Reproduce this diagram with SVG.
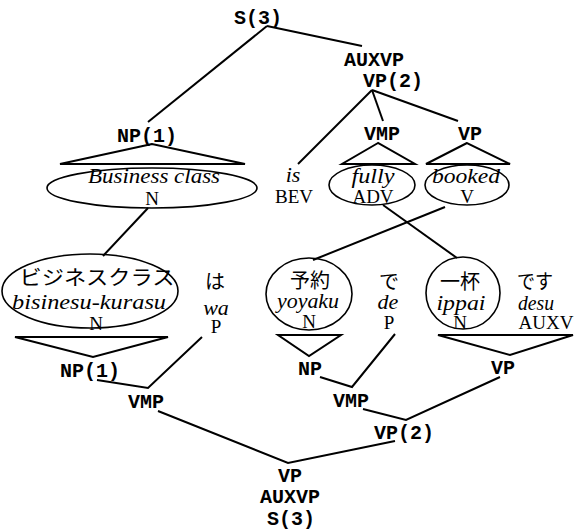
<svg xmlns="http://www.w3.org/2000/svg" width="576" height="530" viewBox="0 0 576 530">
<style>
.m{font-family:"Liberation Mono","DejaVu Sans Mono",monospace;font-weight:bold;font-size:20px;text-anchor:middle;fill:#000}
.s{font-family:"Liberation Serif","DejaVu Serif",serif;font-size:19px;text-anchor:middle;fill:#000}
.i{font-family:"Liberation Serif","DejaVu Serif",serif;font-style:italic;font-size:22px;text-anchor:middle;fill:#000}
.j{font-family:"Liberation Serif","Noto Sans CJK JP",serif;font-size:20px;text-anchor:middle;fill:#000}
.l{fill:none;stroke:#000;stroke-width:2;stroke-linejoin:miter}
.e{fill:none;stroke:#000;stroke-width:1.6}
</style>
<rect width="576" height="530" fill="#fff"/>
<g id="connectors">
<line class="l" x1="267" y1="26" x2="148" y2="122"/>
<line class="l" x1="267" y1="26" x2="362" y2="46"/>
<line class="l" x1="372" y1="90" x2="298" y2="164"/>
<line class="l" x1="372" y1="90" x2="383" y2="121"/>
<line class="l" x1="372" y1="90" x2="458" y2="121"/>
<line class="l" x1="148" y1="208" x2="103" y2="256"/>
<line class="l" x1="445" y1="207" x2="313" y2="260"/>
<line class="l" x1="383" y1="205" x2="457" y2="258"/>
<polyline class="l" points="97,380 148,388 202,337"/>
<polyline class="l" points="320,377 352,387 395,334"/>
<polyline class="l" points="363,409 406,420 500,377"/>
<polyline class="l" points="158,411 288,463 395,441"/>
</g>
<g id="s3-top"><text class="m" x="258" y="24">S(3)</text></g>
<g id="auxvp-vp2-top"><text class="m" x="374" y="66">AUXVP</text><text class="m" x="393" y="87">VP(2)</text></g>
<g id="np1-top">
<text class="m" x="147" y="142">NP(1)</text>
<polygon class="l" points="152,144 60,164 245,164"/>
</g>
<g id="vmp-top">
<text class="m" x="382" y="140">VMP</text>
<polygon class="l" points="378,143 342,164 415,164"/>
</g>
<g id="vp-top">
<text class="m" x="470" y="140">VP</text>
<polygon class="l" points="467,143 426,164 510,164"/>
</g>
<g id="business-class">
<ellipse class="e" cx="152" cy="188" rx="105" ry="20"/>
<text class="i" x="154" y="183" textLength="132" lengthAdjust="spacingAndGlyphs">Business class</text>
<text class="s" x="152" y="205">N</text>
</g>
<g id="is"><text class="i" x="293" y="182">is</text><text class="s" x="294" y="203">BEV</text></g>
<g id="fully">
<ellipse class="e" cx="372" cy="185" rx="43" ry="20"/>
<text class="i" x="373" y="183" textLength="43" lengthAdjust="spacingAndGlyphs">fully</text>
<text class="s" x="373" y="203">ADV</text>
</g>
<g id="booked">
<ellipse class="e" cx="467" cy="185" rx="42" ry="20"/>
<text class="i" x="466" y="183" textLength="68" lengthAdjust="spacingAndGlyphs">booked</text>
<text class="s" x="467" y="203">V</text>
</g>
<g id="bisinesu-kurasu">
<ellipse class="e" cx="90" cy="291" rx="88" ry="37"/>
<text class="j" x="97" y="285" font-size="22" textLength="155" lengthAdjust="spacingAndGlyphs">ビジネスクラス</text>
<text class="i" x="89" y="309" textLength="154" lengthAdjust="spacingAndGlyphs">bisinesu-kurasu</text>
<text class="s" x="96" y="330">N</text>
<polygon class="l" points="15,337 168,337 93,357"/>
<text class="m" x="90" y="377">NP(1)</text>
</g>
<g id="wa"><text class="j" x="215" y="289" font-size="22">は</text><text class="i" x="216" y="315">wa</text><text class="s" x="216" y="333">P</text></g>
<g id="vmp-left"><text class="m" x="146" y="408">VMP</text></g>
<g id="yoyaku">
<ellipse class="e" cx="309" cy="294" rx="43" ry="36"/>
<text class="j" x="310" y="288" font-size="22">予約</text>
<text class="i" x="308" y="308" textLength="62" lengthAdjust="spacingAndGlyphs">yoyaku</text>
<text class="s" x="309" y="328">N</text>
<polygon class="l" points="278,335 341,335 309,356"/>
<text class="m" x="310" y="375">NP</text>
</g>
<g id="de"><text class="j" x="389" y="289">で</text><text class="i" x="388" y="309">de</text><text class="s" x="389" y="329">P</text></g>
<g id="vmp-mid"><text class="m" x="351" y="407">VMP</text></g>
<g id="ippai">
<ellipse class="e" cx="463" cy="293" rx="37" ry="36"/>
<text class="j" x="460" y="289" font-size="22">一杯</text>
<text class="i" x="461" y="310" textLength="49" lengthAdjust="spacingAndGlyphs">ippai</text>
<text class="s" x="460" y="329">N</text>
</g>
<g id="desu">
<text class="j" x="535" y="289" textLength="36" lengthAdjust="spacingAndGlyphs">です</text>
<text class="i" x="536" y="310" textLength="36" lengthAdjust="spacingAndGlyphs">desu</text>
<text class="s" x="546" y="329">AUXV</text>
<polygon class="l" points="438,335 573,335 510,355"/>
<text class="m" x="503" y="374">VP</text>
</g>
<g id="vp2-bottom"><text class="m" x="404" y="439">VP(2)</text></g>
<g id="root-bottom">
<text class="m" x="290" y="482">VP</text>
<text class="m" x="290" y="503">AUXVP</text>
<text class="m" x="291" y="525">S(3)</text>
</g>
</svg>
